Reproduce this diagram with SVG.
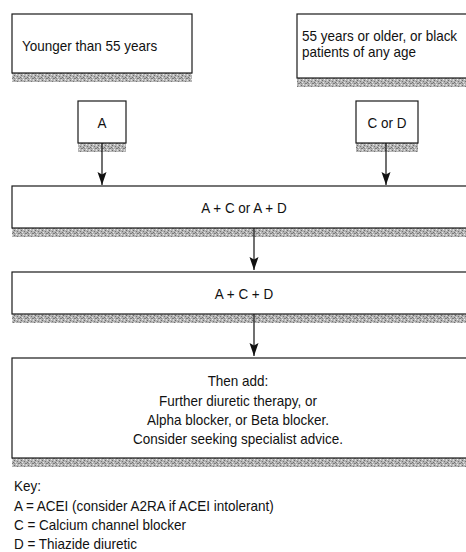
<svg xmlns="http://www.w3.org/2000/svg" width="466" height="552" viewBox="0 0 466 552">
<style>
.box{fill:#fff;stroke:#1a1a1a;stroke-width:1.2}
.sh{fill:url(#stip)}
.t{font-family:"Liberation Sans",Arial,sans-serif;font-size:15px;fill:#111}
.c{text-anchor:middle}
.con{stroke:#111;stroke-width:1.2;fill:none;marker-end:url(#ah)}
</style>
<defs>
<pattern id="stip" width="7" height="5" patternUnits="userSpaceOnUse">
<rect width="7" height="5" fill="#b4b4b4"/>
<rect x="0" y="0" width="1" height="1" fill="#6a6a6a"/>
<rect x="3" y="1" width="1" height="1" fill="#757575"/>
<rect x="1" y="2" width="1" height="1" fill="#e6e6e6"/>
<rect x="4" y="3" width="2" height="1" fill="#7c7c7c"/>
<rect x="2" y="4" width="1" height="1" fill="#efefef"/>
<rect x="5" y="0" width="1" height="1" fill="#dedede"/>
<rect x="0" y="3" width="1" height="1" fill="#8a8a8a"/>
<rect x="6" y="2" width="1" height="1" fill="#6f6f6f"/>
<rect x="5" y="4" width="1" height="1" fill="#d4d4d4"/>
</pattern>
<marker id="ah" viewBox="0 -5 13 10" refX="13" refY="0" markerWidth="13" markerHeight="10" markerUnits="userSpaceOnUse" orient="auto">
<path d="M0,-4.5 L13,0 L0,4.5 L2.5,0 z" fill="#111"/>
</marker>
</defs>

<g id="n-younger">
<rect class="sh" x="12" y="73" width="180" height="9"/>
<rect class="box" x="12" y="14" width="180" height="59"/>
<text class="t" transform="translate(22,51) scale(0.9,1)">Younger than 55 years</text>
</g>

<g id="n-older">
<rect class="sh" x="297" y="78" width="175" height="9"/>
<rect class="box" x="297" y="14" width="175" height="64"/>
<text class="t" transform="translate(302,41) scale(0.9,1)">55 years or older, or black</text>
<text class="t" transform="translate(302,57) scale(0.9,1)">patients of any age</text>
</g>

<g id="n-a">
<rect class="sh" x="78" y="143" width="48" height="9"/>
<rect class="box" x="78" y="101" width="48" height="42"/>
<text class="t c" transform="translate(102,127.5) scale(0.9,1)">A</text>
</g>

<g id="n-cord">
<rect class="sh" x="356" y="143" width="62" height="9"/>
<rect class="box" x="356" y="101" width="62" height="42"/>
<text class="t c" transform="translate(387,127.5) scale(0.9,1)">C or D</text>
</g>

<g id="n-step2">
<rect class="sh" x="12" y="228" width="460" height="9"/>
<rect class="box" x="12" y="186" width="460" height="42"/>
<text class="t c" transform="translate(244,213) scale(0.9,1)">A + C or A + D</text>
</g>

<g id="n-step3">
<rect class="sh" x="12" y="314" width="460" height="9"/>
<rect class="box" x="12" y="272" width="460" height="42"/>
<text class="t c" transform="translate(244,299) scale(0.9,1)">A + C + D</text>
</g>

<g id="n-step4">
<rect class="sh" x="12" y="458" width="460" height="9"/>
<rect class="box" x="12" y="358" width="460" height="100"/>
<text class="t c" transform="translate(238,386) scale(0.9,1)">Then add:</text>
<text class="t c" transform="translate(238,405.5) scale(0.9,1)">Further diuretic therapy, or</text>
<text class="t c" transform="translate(238,424.5) scale(0.9,1)">Alpha blocker, or Beta blocker.</text>
<text class="t c" transform="translate(238,443.5) scale(0.9,1)">Consider seeking specialist advice.</text>
</g>

<g id="connectors">
<line class="con" x1="102" y1="143" x2="102" y2="185"/>
<line class="con" x1="386" y1="143" x2="386" y2="185"/>
<line class="con" x1="254" y1="228" x2="254" y2="270"/>
<line class="con" x1="254" y1="314" x2="254" y2="356"/>
</g>

<g id="key">
<text class="t" transform="translate(14,491) scale(0.9,1)">Key:</text>
<text class="t" transform="translate(14,511) scale(0.9,1)">A = ACEI (consider A2RA if ACEI intolerant)</text>
<text class="t" transform="translate(14,529.5) scale(0.9,1)">C = Calcium channel blocker</text>
<text class="t" transform="translate(14,548.5) scale(0.9,1)">D = Thiazide diuretic</text>
</g>
</svg>
